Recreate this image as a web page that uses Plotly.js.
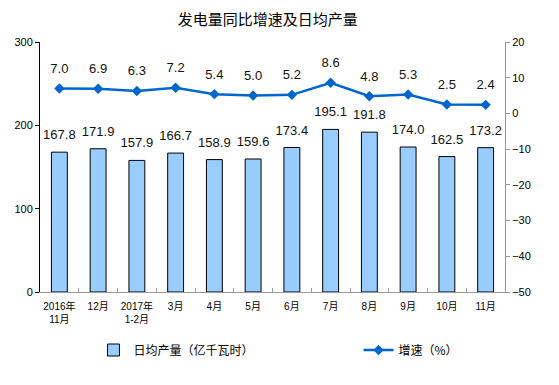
<!DOCTYPE html>
<html>
<head>
<meta charset="utf-8">
<script src="https://cdn.plot.ly/plotly-3.0.1.min.js"></script>
<style>html,body{margin:0;padding:0;background:#fff;}#chart{width:559px;height:385px;}</style>
</head>
<body>
<div id="chart"></div>
<script>
const categories = ["2016年<br>11月","12月","2017年<br>1-2月","3月","4月","5月","6月","7月","8月","9月","10月","11月"];
const dailyOutput = [167.8,171.9,157.9,166.7,158.9,159.6,173.4,195.1,191.8,174.0,162.5,173.2];
const growthRate = [7.0,6.9,6.3,7.2,5.4,5.0,5.2,8.6,4.8,5.3,2.5,2.4];
const barName = "日均产量（亿千瓦时）";
const lineName = "增速（%）";
const titleText = "发电量同比增速及日均产量";

const FONT = "'Liberation Sans', Arial, 'Noto Sans CJK SC', sans-serif";
const CJK = "'Noto Sans CJK SC', sans-serif";

const traces = [
  {
    type: "bar", x: categories, y: dailyOutput, name: barName,
    marker: {color: "#99CCFF", line: {color: "#000000", width: 1}},
    yaxis: "y", legend: "legend"
  },
  {
    type: "scatter", mode: "markers+text", x: categories, y: dailyOutput, showlegend: false,
    marker: {size: 14, opacity: 0, color: "#ffffff"},
    text: dailyOutput.map(v => v.toFixed(1)), textposition: "top center",
    textfont: {family: FONT, size: 13, color: "#111111"},
    cliponaxis: false, yaxis: "y", hoverinfo: "skip"
  },
  {
    type: "scatter", mode: "lines+markers", x: categories, y: growthRate, name: lineName,
    line: {color: "#0066CC", width: 2.5},
    marker: {symbol: "diamond", size: 8, color: "#0066CC"},
    cliponaxis: false, yaxis: "y2", legend: "legend2"
  },
  {
    type: "scatter", mode: "markers+text", x: categories, y: growthRate, showlegend: false,
    marker: {size: 18, opacity: 0, color: "#ffffff"},
    text: growthRate.map(v => v.toFixed(1)), textposition: "top center",
    textfont: {family: FONT, size: 13, color: "#111111"},
    cliponaxis: false, yaxis: "y2", hoverinfo: "skip"
  }
];

const legendBase = {
  orientation: "h", xanchor: "left", y: -0.232, yanchor: "middle",
  font: {family: CJK, size: 12, color: "#000000"}, bgcolor: "rgba(0,0,0,0)"
};

const layout = {
  width: 559, height: 385,
  margin: {l: 40, r: 54, t: 42, b: 93},
  paper_bgcolor: "#ffffff", plot_bgcolor: "#ffffff",
  font: {family: FONT, size: 11, color: "#000000"},
  title: {text: titleText, x: 0.479, xanchor: "center", y: 0.948, yanchor: "middle",
          font: {family: CJK, size: 15, color: "#000000"}},
  bargap: 0.59,
  showlegend: true,
  legend: Object.assign({}, legendBase, {x: 0.115}),
  legend2: Object.assign({}, legendBase, {x: 0.685}),
  xaxis: {
    type: "category", range: [-0.5, categories.length - 0.5], autorange: false,
    showline: true, linecolor: "#999999", linewidth: 1,
    ticks: "inside", tickson: "boundaries", ticklen: 4, tickcolor: "#999999",
    tickangle: 0, ticklabelstandoff: 5,
    tickfont: {family: FONT, size: 10, color: "#000000"},
    showgrid: false, zeroline: false, fixedrange: true
  },
  yaxis: {
    range: [0, 300], dtick: 100, showline: true, linecolor: "#000000", linewidth: 1,
    ticks: "outside", ticklen: 4, tickcolor: "#000000",
    tickfont: {family: FONT, size: 11, color: "#000000"},
    showgrid: false, zeroline: false, fixedrange: true
  },
  yaxis2: {
    overlaying: "y", side: "right", range: [-50, 20], dtick: 10,
    showline: true, linecolor: "#999999", linewidth: 1,
    ticks: "outside", ticklen: 4, tickcolor: "#999999",
    tickfont: {family: FONT, size: 11, color: "#000000"},
    showgrid: false, zeroline: false, fixedrange: true
  }
};

Plotly.newPlot("chart", traces, layout, {displayModeBar: false, staticPlot: true});
</script>
</body>
</html>
